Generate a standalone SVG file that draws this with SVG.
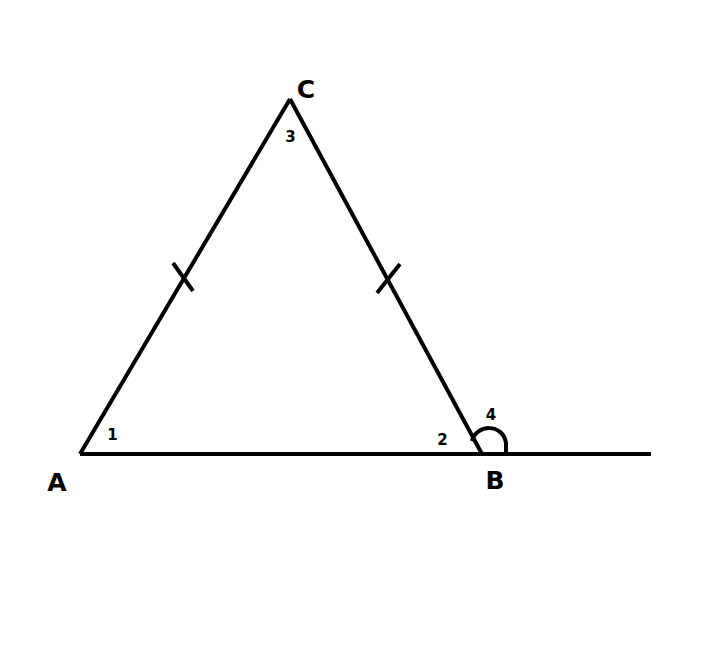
<svg xmlns="http://www.w3.org/2000/svg" width="706" height="668" viewBox="0 0 706 668">
<style>
.ln{stroke:#000;stroke-width:4;fill:none;stroke-linecap:butt;stroke-linejoin:miter}
.lbl{font-family:"DejaVu Sans","Liberation Sans",sans-serif;font-weight:bold;font-size:25px;fill:#000;text-anchor:middle}
.num{font-family:"DejaVu Sans","Liberation Sans",sans-serif;font-weight:bold;font-size:15px;fill:#000;text-anchor:middle}
</style>
<rect width="706" height="668" fill="#fff"/>
<g id="connectors">
<line class="ln" x1="80" y1="454" x2="651" y2="454"/>
<line class="ln" x1="80" y1="454" x2="290" y2="99"/>
<line class="ln" x1="290" y1="99" x2="482" y2="454"/>
<line class="ln" x1="173" y1="263" x2="193" y2="291"/>
<line class="ln" x1="400" y1="264" x2="377" y2="293"/>
<path class="ln" d="M 472 441 C 476 424, 503 423, 506 443 L 506 454"/>
</g>
<g id="A"><text class="lbl" x="57" y="491">A</text></g>
<g id="B"><text class="lbl" x="495" y="489">B</text></g>
<g id="C"><text class="lbl" x="306" y="98">C</text></g>
<g id="angle1"><text class="num" x="112.5" y="440">1</text></g>
<g id="angle2"><text class="num" x="442.5" y="445">2</text></g>
<g id="angle3"><text class="num" x="290.5" y="142">3</text></g>
<g id="angle4"><text class="num" x="491" y="420">4</text></g>
</svg>
